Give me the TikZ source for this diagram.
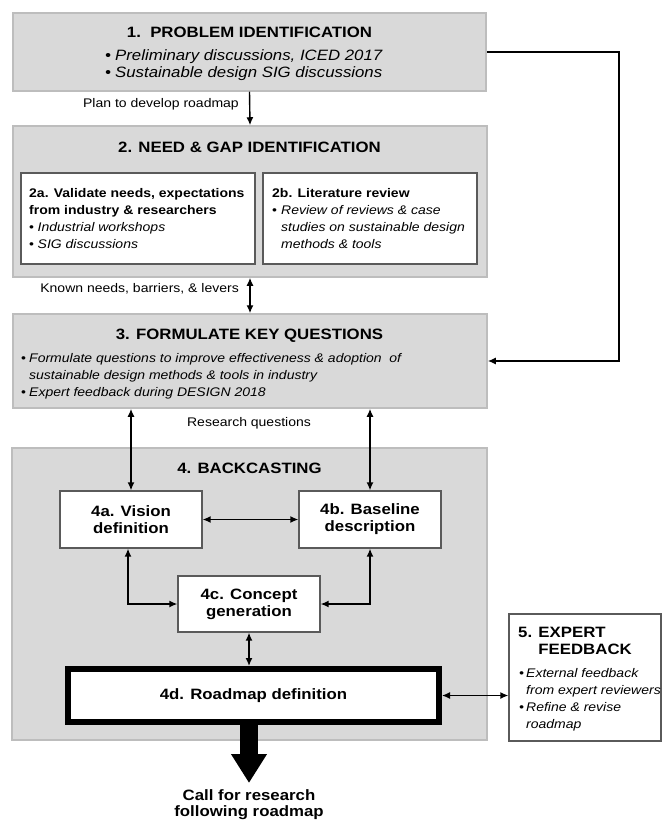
\documentclass[tikz,border=0pt]{standalone}
\usepackage{fontspec}
\setmainfont{Liberation Sans}[FakeStretch=1.12]
\usetikzlibrary{arrows.meta,calc}
\definecolor{boxgray}{HTML}{D9D9D9}
\definecolor{edgegray}{HTML}{BDBDBD}
\definecolor{linegray}{HTML}{5A5A5A}
\newcommand{\bigf}{\fontsize{15}{17}\selectfont}
\newcommand{\smallf}{\fontsize{12.5}{17}\selectfont}
\newcommand{\bl}[1]{\makebox[#1][l]{\textbullet}}
\begin{document}
\begin{tikzpicture}[x=1pt,y=-1pt,
  graybox/.style={draw=edgegray,line width=1.5pt,fill=boxgray,inner sep=0pt},
  whitebox/.style={draw=linegray,line width=1.3pt,fill=white,inner sep=0pt,align=center,font=\bigf\bfseries},
  titletext/.style={inner sep=0pt,font=\bigf\bfseries},
  bodytext/.style={inner sep=0pt,align=left,anchor=north west,font=\smallf},
  labeltext/.style={inner sep=0pt,font=\smallf},
  conn/.style={line width=1.4pt,-{Latex[length=8pt,width=7pt]}},
  biconn/.style={line width=1.4pt,{Latex[length=8pt,width=7pt]}-{Latex[length=8pt,width=7pt]}}]
\useasboundingbox (0,0) rectangle (662,821);

% gray boxes
\node[graybox,minimum width=473pt,minimum height=78pt] (b1) at (249.5,52) {};
\node[graybox,minimum width=474pt,minimum height=151pt] (b2) at (250,201.5) {};
\node[graybox,minimum width=474pt,minimum height=94pt] (b3) at (250,361) {};
\node[graybox,minimum width=475pt,minimum height=292pt] (b4) at (249.5,594) {};

% box 1 text
\node[titletext] (t1) at (249.5,32) {1.\ \ PROBLEM IDENTIFICATION};
\node[bodytext,font=\bigf\itshape] (t1body) at (105,49.5)
  {\bl{10pt}Preliminary discussions, ICED 2017\\\bl{10pt}Sustainable design SIG discussions};

% box 2
\node[titletext] (t2) at (249.5,147) {2. NEED \& GAP IDENTIFICATION};
\node[whitebox,minimum width=234pt,minimum height=91pt] (b2a) at (138,218.5) {};
\node[whitebox,minimum width=214pt,minimum height=91pt] (b2b) at (370,218.5) {};
\node[bodytext] (t2a) at (29,188.5)
  {\textbf{2a. Validate needs, expectations}\\\textbf{from industry \& researchers}\\
   \bl{8.5pt}\textit{Industrial workshops}\\\bl{8.5pt}\textit{SIG discussions}};
\node[bodytext] (t2b) at (272,188.5)
  {\textbf{2b. Literature review}\\\bl{9pt}\textit{Review of reviews \& case}\\
   \hspace*{9pt}\textit{studies on sustainable design}\\\hspace*{9pt}\textit{methods \& tools}};

% box 3
\node[titletext] (t3) at (249.5,336) {3. FORMULATE KEY QUESTIONS};
\node[bodytext] (t3body) at (21,353.5)
  {\bl{8pt}\textit{Formulate questions to improve effectiveness \& adoption\ \ of}\\
   \hspace*{8pt}\textit{sustainable design methods \& tools in industry}\\
   \bl{8pt}\textit{Expert feedback during DESIGN 2018}};

% box 4
\node[titletext] (t4) at (249.5,468) {4. BACKCASTING};
\node[whitebox,minimum width=142pt,minimum height=57pt] (a4) at (131,519.5) {4a. Vision\\definition};
\node[whitebox,minimum width=142pt,minimum height=57pt] (bb4) at (370,519.5) {4b. Baseline\\description};
\node[whitebox,minimum width=142pt,minimum height=56pt] (c4) at (249,604) {4c. Concept\\generation};
\node[draw=black,line width=6pt,fill=white,inner sep=0pt,font=\bigf\bfseries,
  minimum width=371pt,minimum height=53pt] (d4) at (253.5,695.5) {4d. Roadmap definition};

% box 5
\node[whitebox,minimum width=152pt,minimum height=127pt] (e5) at (585,677.5) {};
\node[bodytext,font=\bigf\bfseries] (t5) at (518,626.6) {5. EXPERT\\\phantom{5. }FEEDBACK};
\node[bodytext,font=\smallf\itshape] (t5body) at (519,668.5)
  {\bl{7pt}External feedback\\\hspace*{7pt}from expert reviewers\\\bl{7pt}Refine \& revise\\\hspace*{7pt}roadmap};

% labels
\node[labeltext,anchor=base east] (l1) at (239,107.5) {Plan to develop roadmap};
\node[labeltext,anchor=base east] (l2) at (239,292.5) {Known needs, barriers, \& levers};
\node[labeltext,anchor=base] (l3) at (249,426.5) {Research questions};

% connectors
\coordinate (rt) at (619,0);
\draw[conn] (b1.south) -- (b2.north);
\draw[conn] (b1.east) -- (b1.east -| rt) |- (b3.east);
\draw[biconn] (b2.south) -- (b3.north);
\draw[biconn] (b3.south -| a4.north) -- (a4.north);
\draw[biconn] (b3.south -| bb4.north) -- (bb4.north);
\draw[biconn] (a4.east) -- (bb4.west);
\draw[biconn] ($(a4.south)+(-3,0)$) |- (c4.west);
\draw[biconn] (bb4.south) |- (c4.east);
\draw[biconn] (c4.south) -- (c4.south |- d4.north);
\draw[biconn] (d4.east) -- (d4.east -| e5.west);

% big output arrow
\coordinate (calltip) at (249,783);
\draw[line width=18pt,-{Triangle[length=29pt,width=34pt]}] (d4.south -| calltip) -- (calltip);
\node[inner sep=0pt,align=center,font=\fontsize{15}{16}\selectfont\bfseries] (call) at (249,805)
  {Call for research\\following roadmap};
\end{tikzpicture}
\end{document}
